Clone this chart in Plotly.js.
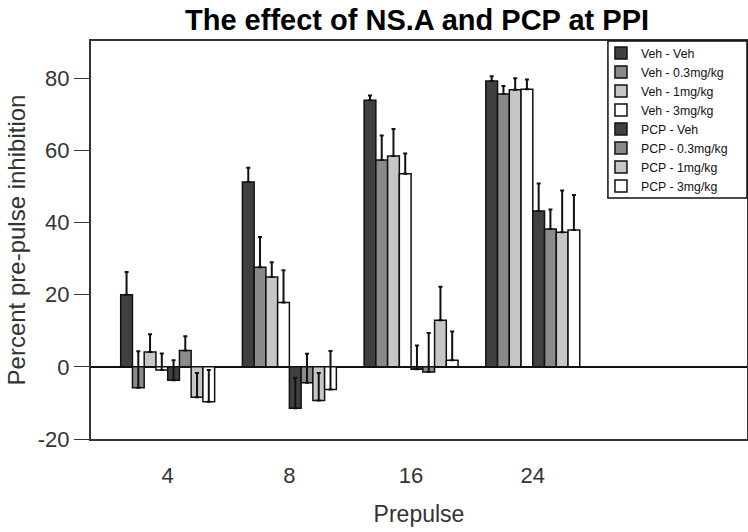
<!DOCTYPE html>
<html>
<head>
<meta charset="utf-8">
<script src="https://cdn.plot.ly/plotly-3.0.1.min.js"></script>
<style>html,body{margin:0;padding:0;background:#fff;}#chart{width:748px;height:532px;}</style>
</head>
<body>
<div id="chart"></div>
<script>
// Data
const categories = ['4', '8', '16', '24'];
const seriesNames = ['Veh - Veh', 'Veh - 0.3mg/kg', 'Veh - 1mg/kg', 'Veh - 3mg/kg',
                     'PCP - Veh', 'PCP - 0.3mg/kg', 'PCP - 1mg/kg', 'PCP - 3mg/kg'];
const vehVeh   = [20.0, 51.2, 73.9, 79.2];
const veh03    = [-5.8, 27.6, 57.3, 75.6];
const veh1     = [4.1, 24.9, 58.4, 76.8];
const veh3     = [-0.9, 17.8, 53.5, 76.9];
const pcpVeh   = [-3.7, -11.5, -0.7, 43.2];
const pcp03    = [4.5, -4.4, -1.4, 38.2];
const pcp1     = [-8.4, -9.3, 12.9, 37.3];
const pcp3     = [-9.7, -6.3, 1.8, 37.9];
const errVehVeh = [6.3, 4.0, 1.3, 1.3];
const errVeh03  = [10.1, 8.4, 6.8, 2.2];
const errVeh1   = [4.9, 4.1, 7.5, 3.2];
const errVeh3   = [4.6, 9.0, 5.6, 2.7];
const errPcpVeh = [5.5, 8.5, 6.6, 7.6];
const errPcp03  = [4.0, 8.0, 10.8, 5.4];
const errPcp1   = [6.7, 7.6, 9.3, 11.6];
const errPcp3   = [8.8, 10.7, 8.0, 9.7];
const yTickVals = [-20, 0, 20, 40, 60, 80];
const yTickText = ['-20', '0', '20', '40', '60', '80'];

const values = [vehVeh, veh03, veh1, veh3, pcpVeh, pcp03, pcp1, pcp3];
const errors = [errVehVeh, errVeh03, errVeh1, errVeh3, errPcpVeh, errPcp03, errPcp1, errPcp3];
const fills = ['#404040', '#8a8a8a', '#c6c6c6', '#ffffff', '#404040', '#8a8a8a', '#c6c6c6', '#ffffff'];
const xPos = categories.map((c, i) => i);
const FONT = 'Liberation Sans, Arial, sans-serif';

const traces = seriesNames.map((name, k) => ({
  type: 'bar',
  name: name,
  x: xPos,
  y: values[k],
  marker: {color: fills[k], line: {color: '#111', width: 1.5}},
  error_y: {type: 'data', symmetric: false, array: errors[k], arrayminus: errors[k].map(() => 0),
            color: '#111', thickness: 2, width: 2},
  hoverinfo: 'y'
}));

const layout = {
  width: 748, height: 532,
  margin: {l: 91, r: 1, t: 41, b: 93},
  paper_bgcolor: '#fff', plot_bgcolor: '#fff',
  barmode: 'group', bargap: 0.228, bargroupgap: 0,
  showlegend: true,
  title: {text: '<b>The effect of NS.A and PCP at PPI</b>', x: 0.497, xref: 'paper', xanchor: 'center',
          y: 0.963, yref: 'container', yanchor: 'middle',
          font: {family: FONT, size: 29, color: '#000'}},
  xaxis: {
    range: [-0.63, 4.76], tickvals: xPos, ticktext: categories,
    showgrid: false, zeroline: false, ticks: '', ticklabelstandoff: 16,
    showline: true, mirror: true, linecolor: '#333', linewidth: 2,
    tickfont: {family: FONT, size: 22, color: '#333'},
    title: {text: 'Prepulse', standoff: 18, font: {family: FONT, size: 23, color: '#333'}},
    fixedrange: true
  },
  yaxis: {
    range: [-20, 90.3], tickvals: yTickVals, ticktext: yTickText,
    showgrid: false, zeroline: true, zerolinecolor: '#111', zerolinewidth: 1.5,
    ticks: 'outside', ticklen: 15, tickcolor: '#333', tickwidth: 1,
    showline: true, mirror: true, linecolor: '#333', linewidth: 2,
    tickfont: {family: FONT, size: 22, color: '#333'},
    title: {text: 'Percent pre-pulse inhibition', standoff: 5, font: {family: FONT, size: 24, color: '#333'}},
    fixedrange: true
  },
  legend: {
    x: 0.7774, y: 1.006, xanchor: 'left', yanchor: 'top', xref: 'paper', yref: 'paper',
    bgcolor: 'rgba(0,0,0,0)', borderwidth: 0,
    font: {family: FONT, size: 12.3, color: '#111'},
    tracegroupgap: 0, itemwidth: 30
  },
  shapes: [{
    type: 'rect', xref: 'paper', yref: 'paper', x0: 0.788, x1: 1.0, y0: 0.6055, y1: 1.0,
    line: {color: '#111', width: 1.5}, fillcolor: 'rgba(0,0,0,0)', layer: 'above'
  }]
};

Plotly.newPlot('chart', traces, layout, {displayModeBar: false, staticPlot: true});
</script>
</body>
</html>
